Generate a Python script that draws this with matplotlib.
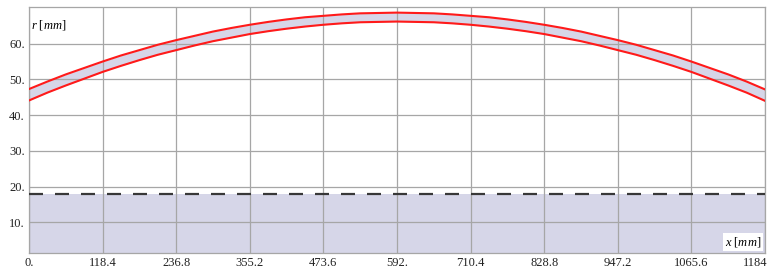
import matplotlib
matplotlib.use("Agg")
import matplotlib.pyplot as plt
from matplotlib.transforms import ScaledTranslation

plt.rcParams['font.family'] = ['Liberation Serif', 'DejaVu Serif']
plt.rcParams['mathtext.fontset'] = 'custom'
plt.rcParams['mathtext.it'] = 'Liberation Serif:italic'
plt.rcParams['mathtext.rm'] = 'Liberation Serif'

x_pos = [0.0, 29.6, 59.2, 88.8, 118.4, 148.0, 177.6, 207.2, 236.8, 266.4, 296.0,
         325.6, 355.2, 384.8, 414.4, 444.0, 473.6, 503.2, 532.8, 562.4, 592.0,
         621.6, 651.2, 680.8, 710.4, 740.0, 769.6, 799.2, 828.8, 858.4, 888.0,
         917.6, 947.2, 976.8, 1006.4, 1036.0, 1065.6, 1095.2, 1124.8, 1154.4, 1184.0]
r_outer = [47.3, 49.4, 51.4, 53.2, 55.0, 56.7, 58.2, 59.7, 61.0, 62.2, 63.4,
           64.4, 65.3, 66.1, 66.8, 67.4, 67.8, 68.2, 68.5, 68.6, 68.7,
           68.6, 68.5, 68.2, 67.8, 67.4, 66.8, 66.1, 65.3, 64.4, 63.4,
           62.2, 61.0, 59.7, 58.2, 56.7, 55.0, 53.2, 51.4, 49.4, 47.2]
r_inner = [44.1, 46.3, 48.3, 50.2, 52.1, 53.8, 55.4, 56.9, 58.2, 59.5, 60.7,
           61.7, 62.7, 63.5, 64.2, 64.8, 65.3, 65.7, 66.0, 66.1, 66.2,
           66.1, 66.0, 65.7, 65.3, 64.8, 64.2, 63.5, 62.7, 61.7, 60.7,
           59.5, 58.2, 56.9, 55.4, 53.8, 52.1, 50.2, 48.3, 46.3, 44.0]
r_core = 17.8

xticks = [0, 118.4, 236.8, 355.2, 473.6, 592.0, 710.4, 828.8, 947.2, 1065.6, 1184]
xtick_labels = ["0.", "118.4", "236.8", "355.2", "473.6", "592.", "710.4",
                "828.8", "947.2", "1065.6", "1184"]
yticks = [10, 20, 30, 40, 50, 60]
ytick_labels = ["10.", "20.", "30.", "40.", "50.", "60."]

fill_col = "#d6d6e8"
grid_col = "#a6a6a6"
fig = plt.figure(figsize=(7.75, 2.69), dpi=100)
ax = fig.add_axes([0.0374, 0.0595, 0.9497, 0.9135])
ymin, ymax = 1.4, 70.2

ax.fill_between(x_pos, r_inner, r_outer, color=fill_col, lw=0, zorder=1)
ax.plot(x_pos, r_outer, color="#ff1a1a", lw=1.5, zorder=3)
ax.plot(x_pos, r_inner, color="#ff1a1a", lw=1.5, zorder=3)
ax.fill_between([x_pos[0], x_pos[-1]], [ymin, ymin], [r_core, r_core],
                color=fill_col, lw=0, zorder=1)
ax.plot([x_pos[0], x_pos[-1]], [r_core, r_core], color="#383838", lw=1.6,
        dashes=(6.3, 5.4), zorder=3)

ax.set_xlim(0, 1184)
ax.set_ylim(ymin, ymax)
ax.set_xticks(xticks)
ax.set_xticklabels(xtick_labels)
ax.set_yticks(yticks)
ax.set_yticklabels(ytick_labels)
ax.tick_params(length=0, labelsize=9, colors="#222222", pad=3)
ax.grid(True, color=grid_col, lw=0.9, zorder=2)
ax.set_axisbelow(False)
for sp in ax.spines.values():
    sp.set_color(grid_col)
    sp.set_linewidth(0.9)

last = ax.get_xticklabels()[-1]
last.set_transform(last.get_transform() + ScaledTranslation(-0.1, 0, fig.dpi_scale_trans))

ax.text(0.003, 0.955, r"$r$ [$mm$]", transform=ax.transAxes, fontsize=9,
        ha="left", va="top", zorder=5)
ax.text(0.995, 0.015, r"$x$ [$mm$]", transform=ax.transAxes, fontsize=9,
        ha="right", va="bottom", zorder=5,
        bbox=dict(facecolor="white", edgecolor="none", pad=1.5))

fig.savefig("out.png", dpi=100)
